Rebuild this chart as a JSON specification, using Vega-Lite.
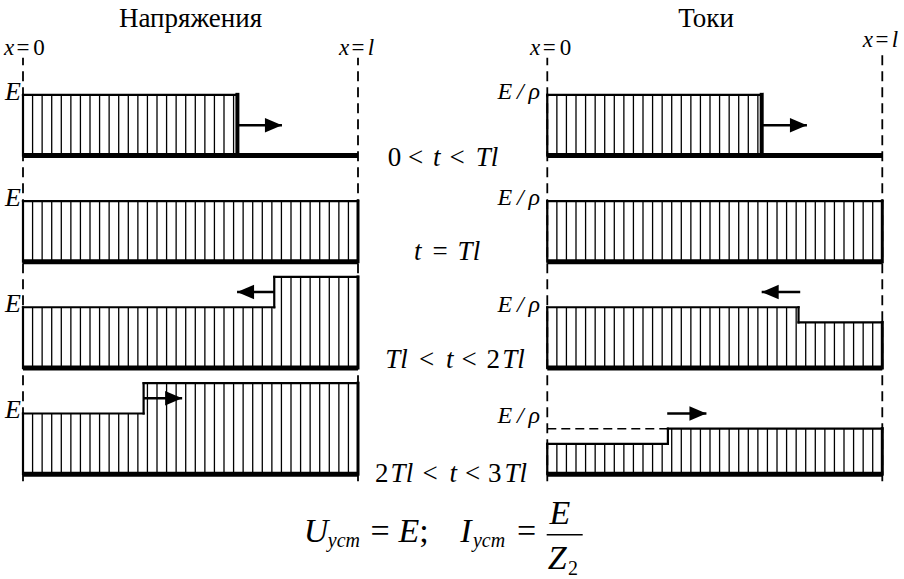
{
  "$schema": "https://vega.github.io/schema/vega-lite/v6.json",
  "width": 904,
  "height": 579,
  "autosize": {"type": "fit", "contains": "padding"},
  "padding": 0,
  "background": "white",
  "config": {
    "view": {"stroke": null},
    "rule": {"color": "black"}
  },
  "datasets": {
    "hatch12": [
      {"x":0,"b":5.25,"t":6.25},{"x":0.0286,"b":5.25,"t":6.25},{"x":0.0571,"b":5.25,"t":6.25},{"x":0.0857,"b":5.25,"t":6.25},
      {"x":0.1143,"b":5.25,"t":6.25},{"x":0.1429,"b":5.25,"t":6.25},{"x":0.1714,"b":5.25,"t":6.25},{"x":0.2,"b":5.25,"t":6.25},
      {"x":0.2286,"b":5.25,"t":6.25},{"x":0.2571,"b":5.25,"t":6.25},{"x":0.2857,"b":5.25,"t":6.25},{"x":0.3143,"b":5.25,"t":6.25},
      {"x":0.3429,"b":5.25,"t":6.25},{"x":0.3714,"b":5.25,"t":6.25},{"x":0.4,"b":5.25,"t":6.25},{"x":0.4286,"b":5.25,"t":6.25},
      {"x":0.4571,"b":5.25,"t":6.25},{"x":0.4857,"b":5.25,"t":6.25},{"x":0.5143,"b":5.25,"t":6.25},{"x":0.5429,"b":5.25,"t":6.25},
      {"x":0.5714,"b":5.25,"t":6.25},{"x":0.6,"b":5.25,"t":6.25},{"x":0.6286,"b":5.25,"t":6.25},
      {"x":0,"b":3.5,"t":4.5},{"x":0.0286,"b":3.5,"t":4.5},{"x":0.0571,"b":3.5,"t":4.5},{"x":0.0857,"b":3.5,"t":4.5},
      {"x":0.1143,"b":3.5,"t":4.5},{"x":0.1429,"b":3.5,"t":4.5},{"x":0.1714,"b":3.5,"t":4.5},{"x":0.2,"b":3.5,"t":4.5},
      {"x":0.2286,"b":3.5,"t":4.5},{"x":0.2571,"b":3.5,"t":4.5},{"x":0.2857,"b":3.5,"t":4.5},{"x":0.3143,"b":3.5,"t":4.5},
      {"x":0.3429,"b":3.5,"t":4.5},{"x":0.3714,"b":3.5,"t":4.5},{"x":0.4,"b":3.5,"t":4.5},{"x":0.4286,"b":3.5,"t":4.5},
      {"x":0.4571,"b":3.5,"t":4.5},{"x":0.4857,"b":3.5,"t":4.5},{"x":0.5143,"b":3.5,"t":4.5},{"x":0.5429,"b":3.5,"t":4.5},
      {"x":0.5714,"b":3.5,"t":4.5},{"x":0.6,"b":3.5,"t":4.5},{"x":0.6286,"b":3.5,"t":4.5},{"x":0.6571,"b":3.5,"t":4.5},
      {"x":0.6857,"b":3.5,"t":4.5},{"x":0.7143,"b":3.5,"t":4.5},{"x":0.7429,"b":3.5,"t":4.5},{"x":0.7714,"b":3.5,"t":4.5},
      {"x":0.8,"b":3.5,"t":4.5},{"x":0.8286,"b":3.5,"t":4.5},{"x":0.8571,"b":3.5,"t":4.5},{"x":0.8857,"b":3.5,"t":4.5},
      {"x":0.9143,"b":3.5,"t":4.5},{"x":0.9429,"b":3.5,"t":4.5},{"x":0.9714,"b":3.5,"t":4.5},{"x":1,"b":3.5,"t":4.5}
    ],
    "uHatch34": [
      {"x":0,"b":1.75,"t":2.75},{"x":0.0286,"b":1.75,"t":2.75},{"x":0.0571,"b":1.75,"t":2.75},{"x":0.0857,"b":1.75,"t":2.75},
      {"x":0.1143,"b":1.75,"t":2.75},{"x":0.1429,"b":1.75,"t":2.75},{"x":0.1714,"b":1.75,"t":2.75},{"x":0.2,"b":1.75,"t":2.75},
      {"x":0.2286,"b":1.75,"t":2.75},{"x":0.2571,"b":1.75,"t":2.75},{"x":0.2857,"b":1.75,"t":2.75},{"x":0.3143,"b":1.75,"t":2.75},
      {"x":0.3429,"b":1.75,"t":2.75},{"x":0.3714,"b":1.75,"t":2.75},{"x":0.4,"b":1.75,"t":2.75},{"x":0.4286,"b":1.75,"t":2.75},
      {"x":0.4571,"b":1.75,"t":2.75},{"x":0.4857,"b":1.75,"t":2.75},{"x":0.5143,"b":1.75,"t":2.75},{"x":0.5429,"b":1.75,"t":2.75},
      {"x":0.5714,"b":1.75,"t":2.75},{"x":0.6,"b":1.75,"t":2.75},{"x":0.6286,"b":1.75,"t":2.75},{"x":0.6571,"b":1.75,"t":2.75},
      {"x":0.6857,"b":1.75,"t":2.75},{"x":0.7143,"b":1.75,"t":2.75},{"x":0.7429,"b":1.75,"t":2.75},{"x":0.7714,"b":1.75,"t":3.25},
      {"x":0.8,"b":1.75,"t":3.25},{"x":0.8286,"b":1.75,"t":3.25},{"x":0.8571,"b":1.75,"t":3.25},{"x":0.8857,"b":1.75,"t":3.25},
      {"x":0.9143,"b":1.75,"t":3.25},{"x":0.9429,"b":1.75,"t":3.25},{"x":0.9714,"b":1.75,"t":3.25},{"x":1,"b":1.75,"t":3.25},
      {"x":0,"b":0,"t":1},{"x":0.0286,"b":0,"t":1},{"x":0.0571,"b":0,"t":1},{"x":0.0857,"b":0,"t":1},
      {"x":0.1143,"b":0,"t":1},{"x":0.1429,"b":0,"t":1},{"x":0.1714,"b":0,"t":1},{"x":0.2,"b":0,"t":1},
      {"x":0.2286,"b":0,"t":1},{"x":0.2571,"b":0,"t":1},{"x":0.2857,"b":0,"t":1},{"x":0.3143,"b":0,"t":1},
      {"x":0.3429,"b":0,"t":1},{"x":0.3714,"b":0,"t":1.5},{"x":0.4,"b":0,"t":1.5},{"x":0.4286,"b":0,"t":1.5},
      {"x":0.4571,"b":0,"t":1.5},{"x":0.4857,"b":0,"t":1.5},{"x":0.5143,"b":0,"t":1.5},{"x":0.5429,"b":0,"t":1.5},
      {"x":0.5714,"b":0,"t":1.5},{"x":0.6,"b":0,"t":1.5},{"x":0.6286,"b":0,"t":1.5},{"x":0.6571,"b":0,"t":1.5},
      {"x":0.6857,"b":0,"t":1.5},{"x":0.7143,"b":0,"t":1.5},{"x":0.7429,"b":0,"t":1.5},{"x":0.7714,"b":0,"t":1.5},
      {"x":0.8,"b":0,"t":1.5},{"x":0.8286,"b":0,"t":1.5},{"x":0.8571,"b":0,"t":1.5},{"x":0.8857,"b":0,"t":1.5},
      {"x":0.9143,"b":0,"t":1.5},{"x":0.9429,"b":0,"t":1.5},{"x":0.9714,"b":0,"t":1.5},{"x":1,"b":0,"t":1.5}
    ],
    "iHatch34": [
      {"x":0,"b":1.75,"t":2.75},{"x":0.0286,"b":1.75,"t":2.75},{"x":0.0571,"b":1.75,"t":2.75},{"x":0.0857,"b":1.75,"t":2.75},
      {"x":0.1143,"b":1.75,"t":2.75},{"x":0.1429,"b":1.75,"t":2.75},{"x":0.1714,"b":1.75,"t":2.75},{"x":0.2,"b":1.75,"t":2.75},
      {"x":0.2286,"b":1.75,"t":2.75},{"x":0.2571,"b":1.75,"t":2.75},{"x":0.2857,"b":1.75,"t":2.75},{"x":0.3143,"b":1.75,"t":2.75},
      {"x":0.3429,"b":1.75,"t":2.75},{"x":0.3714,"b":1.75,"t":2.75},{"x":0.4,"b":1.75,"t":2.75},{"x":0.4286,"b":1.75,"t":2.75},
      {"x":0.4571,"b":1.75,"t":2.75},{"x":0.4857,"b":1.75,"t":2.75},{"x":0.5143,"b":1.75,"t":2.75},{"x":0.5429,"b":1.75,"t":2.75},
      {"x":0.5714,"b":1.75,"t":2.75},{"x":0.6,"b":1.75,"t":2.75},{"x":0.6286,"b":1.75,"t":2.75},{"x":0.6571,"b":1.75,"t":2.75},
      {"x":0.6857,"b":1.75,"t":2.75},{"x":0.7143,"b":1.75,"t":2.75},{"x":0.7429,"b":1.75,"t":2.75},{"x":0.7714,"b":1.75,"t":2.5},
      {"x":0.8,"b":1.75,"t":2.5},{"x":0.8286,"b":1.75,"t":2.5},{"x":0.8571,"b":1.75,"t":2.5},{"x":0.8857,"b":1.75,"t":2.5},
      {"x":0.9143,"b":1.75,"t":2.5},{"x":0.9429,"b":1.75,"t":2.5},{"x":0.9714,"b":1.75,"t":2.5},{"x":1,"b":1.75,"t":2.5},
      {"x":0,"b":0,"t":0.5},{"x":0.0286,"b":0,"t":0.5},{"x":0.0571,"b":0,"t":0.5},{"x":0.0857,"b":0,"t":0.5},
      {"x":0.1143,"b":0,"t":0.5},{"x":0.1429,"b":0,"t":0.5},{"x":0.1714,"b":0,"t":0.5},{"x":0.2,"b":0,"t":0.5},
      {"x":0.2286,"b":0,"t":0.5},{"x":0.2571,"b":0,"t":0.5},{"x":0.2857,"b":0,"t":0.5},{"x":0.3143,"b":0,"t":0.5},
      {"x":0.3429,"b":0,"t":0.5},{"x":0.3714,"b":0,"t":0.75},{"x":0.4,"b":0,"t":0.75},{"x":0.4286,"b":0,"t":0.75},
      {"x":0.4571,"b":0,"t":0.75},{"x":0.4857,"b":0,"t":0.75},{"x":0.5143,"b":0,"t":0.75},{"x":0.5429,"b":0,"t":0.75},
      {"x":0.5714,"b":0,"t":0.75},{"x":0.6,"b":0,"t":0.75},{"x":0.6286,"b":0,"t":0.75},{"x":0.6571,"b":0,"t":0.75},
      {"x":0.6857,"b":0,"t":0.75},{"x":0.7143,"b":0,"t":0.75},{"x":0.7429,"b":0,"t":0.75},{"x":0.7714,"b":0,"t":0.75},
      {"x":0.8,"b":0,"t":0.75},{"x":0.8286,"b":0,"t":0.75},{"x":0.8571,"b":0,"t":0.75},{"x":0.8857,"b":0,"t":0.75},
      {"x":0.9143,"b":0,"t":0.75},{"x":0.9429,"b":0,"t":0.75},{"x":0.9714,"b":0,"t":0.75},{"x":1,"b":0,"t":0.75}
    ],
    "outline12": [
      {"x":0,"x2":0,"y":5.25,"y2":6.25,"k":"edge"},
      {"x":0,"x2":0.64,"y":6.25,"y2":6.25,"k":"edge"},
      {"x":0.64,"x2":0.64,"y":5.25,"y2":6.25,"k":"front"},
      {"x":0,"x2":0,"y":3.5,"y2":4.5,"k":"edge"},
      {"x":0,"x2":1,"y":4.5,"y2":4.5,"k":"edge"},
      {"x":1,"x2":1,"y":3.5,"y2":4.5,"k":"end"}
    ],
    "uOutline34": [
      {"x":0,"x2":0,"y":1.75,"y2":2.75,"k":"edge"},
      {"x":0,"x2":0.75,"y":2.75,"y2":2.75,"k":"edge"},
      {"x":0.75,"x2":0.75,"y":2.75,"y2":3.25,"k":"edge"},
      {"x":0.75,"x2":1,"y":3.25,"y2":3.25,"k":"edge"},
      {"x":1,"x2":1,"y":1.75,"y2":3.25,"k":"end"},
      {"x":0,"x2":0,"y":0,"y2":1,"k":"edge"},
      {"x":0,"x2":0.36,"y":1,"y2":1,"k":"edge"},
      {"x":0.36,"x2":0.36,"y":1,"y2":1.5,"k":"edge"},
      {"x":0.36,"x2":1,"y":1.5,"y2":1.5,"k":"edge"},
      {"x":1,"x2":1,"y":0,"y2":1.5,"k":"end"}
    ],
    "iOutline34": [
      {"x":0,"x2":0,"y":1.75,"y2":2.75,"k":"edge"},
      {"x":0,"x2":0.75,"y":2.75,"y2":2.75,"k":"edge"},
      {"x":0.75,"x2":0.75,"y":2.5,"y2":2.75,"k":"edge"},
      {"x":0.75,"x2":1,"y":2.5,"y2":2.5,"k":"edge"},
      {"x":1,"x2":1,"y":1.75,"y2":2.5,"k":"end"},
      {"x":0,"x2":0,"y":0,"y2":0.5,"k":"edge"},
      {"x":0,"x2":0.36,"y":0.5,"y2":0.5,"k":"edge"},
      {"x":0.36,"x2":0.36,"y":0.5,"y2":0.75,"k":"edge"},
      {"x":0.36,"x2":1,"y":0.75,"y2":0.75,"k":"edge"},
      {"x":1,"x2":1,"y":0,"y2":0.75,"k":"end"}
    ],
    "bases": [
      {"x":0,"x2":1,"y":5.25},{"x":0,"x2":1,"y":3.5},{"x":0,"x2":1,"y":1.75},{"x":0,"x2":1,"y":0}
    ],
    "uGuides": [{"x":0,"y":-0.115,"y2":6.86},{"x":1,"y":-0.115,"y2":6.86}],
    "iGuides": [{"x":0,"y":-0.115,"y2":6.86},{"x":1,"y":-0.115,"y2":6.99}],
    "iPrior": [{"x":0,"x2":0.36,"y":0.75}],
    "uArrows": [
      {"x":0.64,"x2":0.773,"y":5.75,"dir":"right"},
      {"x":0.75,"x2":0.639,"y":3.0,"dir":"left"},
      {"x":0.361,"x2":0.475,"y":1.25,"dir":"right"}
    ],
    "iArrows": [
      {"x":0.64,"x2":0.775,"y":5.75,"dir":"right"},
      {"x":0.755,"x2":0.64,"y":3.0,"dir":"left"},
      {"x":0.358,"x2":0.475,"y":1.0,"dir":"right"}
    ],
    "uRoman": [
      {"x":0.5,"y":7.368,"s":"Напряжения","r":"title"},
      {"x":0,"y":6.908,"s":"=","r":"guide"},
      {"x":0.0478,"y":6.908,"s":"0","r":"guide"},
      {"x":1,"y":6.908,"s":"=","r":"guide"},
      {"x":1.109,"y":5.082,"s":"0","r":"time"},
      {"x":1.172,"y":5.082,"s":"<","r":"time"},
      {"x":1.296,"y":5.082,"s":"<","r":"time"},
      {"x":1.245,"y":3.536,"s":"=","r":"time"},
      {"x":1.205,"y":1.743,"s":"<","r":"time"},
      {"x":1.332,"y":1.743,"s":"<","r":"time"},
      {"x":1.404,"y":1.743,"s":"2","r":"time"},
      {"x":1.071,"y":-0.132,"s":"2","r":"time"},
      {"x":1.215,"y":-0.132,"s":"<","r":"time"},
      {"x":1.342,"y":-0.132,"s":"<","r":"time"},
      {"x":1.408,"y":-0.132,"s":"3","r":"time"},
      {"x":1.0657,"y":-1.118,"s":"=","r":"formula"},
      {"x":1.197,"y":-1.118,"s":";","r":"formula"},
      {"x":1.503,"y":-1.118,"s":"=","r":"formula"},
      {"x":1.6418,"y":-1.661,"s":"2","r":"sub"}
    ],
    "uItalic": [
      {"x":-0.0418,"y":6.908,"s":"x","r":"guide"},
      {"x":0.9582,"y":6.908,"s":"x","r":"guide"},
      {"x":1.0388,"y":6.908,"s":"l","r":"guide"},
      {"x":1.235,"y":5.082,"s":"t","r":"time"},
      {"x":1.385,"y":5.082,"s":"Tl","r":"time"},
      {"x":1.178,"y":3.536,"s":"t","r":"time"},
      {"x":1.331,"y":3.536,"s":"Tl","r":"time"},
      {"x":1.115,"y":1.743,"s":"Tl","r":"time"},
      {"x":1.274,"y":1.743,"s":"t","r":"time"},
      {"x":1.464,"y":1.743,"s":"Tl","r":"time"},
      {"x":1.131,"y":-0.132,"s":"Tl","r":"time"},
      {"x":1.284,"y":-0.132,"s":"t","r":"time"},
      {"x":1.471,"y":-0.132,"s":"Tl","r":"time"},
      {"x":0.8746,"y":-1.118,"s":"U","r":"formula"},
      {"x":1.152,"y":-1.118,"s":"E","r":"formula"},
      {"x":1.3218,"y":-1.118,"s":"I","r":"formula"},
      {"x":1.6024,"y":-0.822,"s":"E","r":"formula"},
      {"x":1.595,"y":-1.5625,"s":"Z","r":"formula"},
      {"x":0.958,"y":-1.206,"s":"уст","r":"sub"},
      {"x":1.391,"y":-1.206,"s":"уст","r":"sub"}
    ],
    "uLevel": [
      {"x":-0.006,"y":6.17,"s":"E"},{"x":-0.006,"y":4.42,"s":"E"},{"x":-0.006,"y":2.67,"s":"E"},{"x":-0.006,"y":0.92,"s":"E"}
    ],
    "uBar": [{"x":1.5633,"x2":1.6707,"y":-0.998}],
    "iRoman": [
      {"x":0.474,"y":7.368,"s":"Токи","r":"title"},
      {"x":0.006,"y":6.908,"s":"=","r":"guide"},
      {"x":0.054,"y":6.908,"s":"0","r":"guide"},
      {"x":0.999,"y":7.039,"s":"=","r":"guide"}
    ],
    "iItalic": [
      {"x":-0.036,"y":6.908,"s":"x","r":"guide"},
      {"x":0.957,"y":7.039,"s":"x","r":"guide"},
      {"x":1.038,"y":7.039,"s":"l","r":"guide"}
    ],
    "iLevel": [
      {"x":-0.022,"y":6.18,"s":"E\u2009/\u2009ρ"},{"x":-0.022,"y":4.43,"s":"E\u2009/\u2009ρ"},
      {"x":-0.022,"y":2.68,"s":"E\u2009/\u2009ρ"},{"x":-0.022,"y":0.839,"s":"E\u2009/\u2009ρ"}
    ]
  },
  "layer": [
    {
      "layer": [
        {"data": {"name": "hatch12"}, "mark": {"type": "rule", "strokeWidth": 1.3},
         "encoding": {
           "x": {"field": "x", "type": "quantitative", "scale": {"domain": [-0.06866, 2.62985], "nice": false, "zero": false}, "axis": null},
           "y": {"field": "b", "type": "quantitative", "scale": {"domain": [-1.7105, 7.8125], "nice": false, "zero": false}, "axis": null},
           "y2": {"field": "t"}}},
        {"data": {"name": "uHatch34"}, "mark": {"type": "rule", "strokeWidth": 1.3},
         "encoding": {
           "x": {"field": "x", "type": "quantitative", "scale": {"domain": [-0.06866, 2.62985], "nice": false, "zero": false}, "axis": null},
           "y": {"field": "b", "type": "quantitative", "scale": {"domain": [-1.7105, 7.8125], "nice": false, "zero": false}, "axis": null},
           "y2": {"field": "t"}}},
        {"data": {"name": "outline12"}, "mark": {"type": "rule", "strokeCap": "square"},
         "encoding": {
           "x": {"field": "x", "type": "quantitative", "scale": {"domain": [-0.06866, 2.62985], "nice": false, "zero": false}, "axis": null},
           "x2": {"field": "x2"},
           "y": {"field": "y", "type": "quantitative", "scale": {"domain": [-1.7105, 7.8125], "nice": false, "zero": false}, "axis": null},
           "y2": {"field": "y2"},
           "strokeWidth": {"field": "k", "type": "nominal", "scale": {"type": "ordinal", "domain": ["edge", "front", "end"], "range": [2.2, 4, 3]}, "legend": null}}},
        {"data": {"name": "uOutline34"}, "mark": {"type": "rule", "strokeCap": "square"},
         "encoding": {
           "x": {"field": "x", "type": "quantitative", "scale": {"domain": [-0.06866, 2.62985], "nice": false, "zero": false}, "axis": null},
           "x2": {"field": "x2"},
           "y": {"field": "y", "type": "quantitative", "scale": {"domain": [-1.7105, 7.8125], "nice": false, "zero": false}, "axis": null},
           "y2": {"field": "y2"},
           "strokeWidth": {"field": "k", "type": "nominal", "scale": {"type": "ordinal", "domain": ["edge", "front", "end"], "range": [2.2, 4, 3]}, "legend": null}}},
        {"data": {"name": "bases"}, "mark": {"type": "rule", "strokeWidth": 5, "strokeCap": "butt"},
         "encoding": {
           "x": {"field": "x", "type": "quantitative", "scale": {"domain": [-0.06866, 2.62985], "nice": false, "zero": false}, "axis": null},
           "x2": {"field": "x2"},
           "y": {"field": "y", "type": "quantitative", "scale": {"domain": [-1.7105, 7.8125], "nice": false, "zero": false}, "axis": null}}},
        {"data": {"name": "uGuides"}, "mark": {"type": "rule", "strokeWidth": 1.8, "strokeDash": [10, 6]},
         "encoding": {
           "x": {"field": "x", "type": "quantitative", "scale": {"domain": [-0.06866, 2.62985], "nice": false, "zero": false}, "axis": null},
           "y": {"field": "y", "type": "quantitative", "scale": {"domain": [-1.7105, 7.8125], "nice": false, "zero": false}, "axis": null},
           "y2": {"field": "y2"}}},
        {"data": {"name": "uArrows"}, "mark": {"type": "rule", "strokeWidth": 2.5},
         "encoding": {
           "x": {"field": "x", "type": "quantitative", "scale": {"domain": [-0.06866, 2.62985], "nice": false, "zero": false}, "axis": null},
           "x2": {"field": "x2"},
           "y": {"field": "y", "type": "quantitative", "scale": {"domain": [-1.7105, 7.8125], "nice": false, "zero": false}, "axis": null}}},
        {"data": {"name": "uArrows"}, "mark": {"type": "point", "filled": true, "color": "black", "opacity": 1, "size": 289, "strokeWidth": 0},
         "encoding": {
           "x": {"field": "x2", "type": "quantitative", "scale": {"domain": [-0.06866, 2.62985], "nice": false, "zero": false}, "axis": null},
           "y": {"field": "y", "type": "quantitative", "scale": {"domain": [-1.7105, 7.8125], "nice": false, "zero": false}, "axis": null},
           "shape": {"field": "dir", "type": "nominal", "scale": {"domain": ["right", "left"], "range": ["M-2,-0.85L0,0L-2,0.85Z", "M2,-0.85L0,0L2,0.85Z"]}, "legend": null}}},
        {"data": {"name": "uBar"}, "mark": {"type": "rule", "strokeWidth": 1.6},
         "encoding": {
           "x": {"field": "x", "type": "quantitative", "scale": {"domain": [-0.06866, 2.62985], "nice": false, "zero": false}, "axis": null},
           "x2": {"field": "x2"},
           "y": {"field": "y", "type": "quantitative", "scale": {"domain": [-1.7105, 7.8125], "nice": false, "zero": false}, "axis": null}}},
        {"data": {"name": "uRoman"}, "mark": {"type": "text", "align": "center", "baseline": "alphabetic", "font": "Liberation Serif", "color": "black"},
         "encoding": {
           "x": {"field": "x", "type": "quantitative", "scale": {"domain": [-0.06866, 2.62985], "nice": false, "zero": false}, "axis": null},
           "y": {"field": "y", "type": "quantitative", "scale": {"domain": [-1.7105, 7.8125], "nice": false, "zero": false}, "axis": null},
           "text": {"field": "s"},
           "size": {"field": "r", "type": "nominal", "scale": {"type": "ordinal", "domain": ["title", "guide", "time", "formula", "sub"], "range": [27, 23, 27, 34, 20]}, "legend": null}}},
        {"data": {"name": "uItalic"}, "mark": {"type": "text", "align": "center", "baseline": "alphabetic", "fontStyle": "italic", "font": "Liberation Serif", "color": "black"},
         "encoding": {
           "x": {"field": "x", "type": "quantitative", "scale": {"domain": [-0.06866, 2.62985], "nice": false, "zero": false}, "axis": null},
           "y": {"field": "y", "type": "quantitative", "scale": {"domain": [-1.7105, 7.8125], "nice": false, "zero": false}, "axis": null},
           "text": {"field": "s"},
           "size": {"field": "r", "type": "nominal", "scale": {"type": "ordinal", "domain": ["title", "guide", "time", "formula", "sub"], "range": [27, 23, 27, 34, 20]}, "legend": null}}},
        {"data": {"name": "uLevel"}, "mark": {"type": "text", "align": "right", "baseline": "alphabetic", "fontStyle": "italic", "fontSize": 26, "font": "Liberation Serif", "color": "black"},
         "encoding": {
           "x": {"field": "x", "type": "quantitative", "scale": {"domain": [-0.06866, 2.62985], "nice": false, "zero": false}, "axis": null},
           "y": {"field": "y", "type": "quantitative", "scale": {"domain": [-1.7105, 7.8125], "nice": false, "zero": false}, "axis": null},
           "text": {"field": "s"}}}
      ]
    },
    {
      "layer": [
        {"data": {"name": "hatch12"}, "mark": {"type": "rule", "strokeWidth": 1.3},
         "encoding": {
           "x": {"field": "x", "type": "quantitative", "scale": {"domain": [-1.6337, 1.0648], "nice": false, "zero": false}, "axis": null},
           "y": {"field": "b", "type": "quantitative", "scale": {"domain": [-1.7105, 7.8125], "nice": false, "zero": false}, "axis": null},
           "y2": {"field": "t"}}},
        {"data": {"name": "iHatch34"}, "mark": {"type": "rule", "strokeWidth": 1.3},
         "encoding": {
           "x": {"field": "x", "type": "quantitative", "scale": {"domain": [-1.6337, 1.0648], "nice": false, "zero": false}, "axis": null},
           "y": {"field": "b", "type": "quantitative", "scale": {"domain": [-1.7105, 7.8125], "nice": false, "zero": false}, "axis": null},
           "y2": {"field": "t"}}},
        {"data": {"name": "outline12"}, "mark": {"type": "rule", "strokeCap": "square"},
         "encoding": {
           "x": {"field": "x", "type": "quantitative", "scale": {"domain": [-1.6337, 1.0648], "nice": false, "zero": false}, "axis": null},
           "x2": {"field": "x2"},
           "y": {"field": "y", "type": "quantitative", "scale": {"domain": [-1.7105, 7.8125], "nice": false, "zero": false}, "axis": null},
           "y2": {"field": "y2"},
           "strokeWidth": {"field": "k", "type": "nominal", "scale": {"type": "ordinal", "domain": ["edge", "front", "end"], "range": [2.2, 4, 3]}, "legend": null}}},
        {"data": {"name": "iOutline34"}, "mark": {"type": "rule", "strokeCap": "square"},
         "encoding": {
           "x": {"field": "x", "type": "quantitative", "scale": {"domain": [-1.6337, 1.0648], "nice": false, "zero": false}, "axis": null},
           "x2": {"field": "x2"},
           "y": {"field": "y", "type": "quantitative", "scale": {"domain": [-1.7105, 7.8125], "nice": false, "zero": false}, "axis": null},
           "y2": {"field": "y2"},
           "strokeWidth": {"field": "k", "type": "nominal", "scale": {"type": "ordinal", "domain": ["edge", "front", "end"], "range": [2.2, 4, 3]}, "legend": null}}},
        {"data": {"name": "bases"}, "mark": {"type": "rule", "strokeWidth": 5, "strokeCap": "butt"},
         "encoding": {
           "x": {"field": "x", "type": "quantitative", "scale": {"domain": [-1.6337, 1.0648], "nice": false, "zero": false}, "axis": null},
           "x2": {"field": "x2"},
           "y": {"field": "y", "type": "quantitative", "scale": {"domain": [-1.7105, 7.8125], "nice": false, "zero": false}, "axis": null}}},
        {"data": {"name": "iGuides"}, "mark": {"type": "rule", "strokeWidth": 1.8, "strokeDash": [10, 6]},
         "encoding": {
           "x": {"field": "x", "type": "quantitative", "scale": {"domain": [-1.6337, 1.0648], "nice": false, "zero": false}, "axis": null},
           "y": {"field": "y", "type": "quantitative", "scale": {"domain": [-1.7105, 7.8125], "nice": false, "zero": false}, "axis": null},
           "y2": {"field": "y2"}}},
        {"data": {"name": "iPrior"}, "mark": {"type": "rule", "strokeWidth": 1.5, "strokeDash": [9, 5]},
         "encoding": {
           "x": {"field": "x", "type": "quantitative", "scale": {"domain": [-1.6337, 1.0648], "nice": false, "zero": false}, "axis": null},
           "x2": {"field": "x2"},
           "y": {"field": "y", "type": "quantitative", "scale": {"domain": [-1.7105, 7.8125], "nice": false, "zero": false}, "axis": null}}},
        {"data": {"name": "iArrows"}, "mark": {"type": "rule", "strokeWidth": 2.5},
         "encoding": {
           "x": {"field": "x", "type": "quantitative", "scale": {"domain": [-1.6337, 1.0648], "nice": false, "zero": false}, "axis": null},
           "x2": {"field": "x2"},
           "y": {"field": "y", "type": "quantitative", "scale": {"domain": [-1.7105, 7.8125], "nice": false, "zero": false}, "axis": null}}},
        {"data": {"name": "iArrows"}, "mark": {"type": "point", "filled": true, "color": "black", "opacity": 1, "size": 289, "strokeWidth": 0},
         "encoding": {
           "x": {"field": "x2", "type": "quantitative", "scale": {"domain": [-1.6337, 1.0648], "nice": false, "zero": false}, "axis": null},
           "y": {"field": "y", "type": "quantitative", "scale": {"domain": [-1.7105, 7.8125], "nice": false, "zero": false}, "axis": null},
           "shape": {"field": "dir", "type": "nominal", "scale": {"domain": ["right", "left"], "range": ["M-2,-0.85L0,0L-2,0.85Z", "M2,-0.85L0,0L2,0.85Z"]}, "legend": null}}},
        {"data": {"name": "iRoman"}, "mark": {"type": "text", "align": "center", "baseline": "alphabetic", "font": "Liberation Serif", "color": "black"},
         "encoding": {
           "x": {"field": "x", "type": "quantitative", "scale": {"domain": [-1.6337, 1.0648], "nice": false, "zero": false}, "axis": null},
           "y": {"field": "y", "type": "quantitative", "scale": {"domain": [-1.7105, 7.8125], "nice": false, "zero": false}, "axis": null},
           "text": {"field": "s"},
           "size": {"field": "r", "type": "nominal", "scale": {"type": "ordinal", "domain": ["title", "guide", "time", "formula", "sub"], "range": [27, 23, 27, 34, 20]}, "legend": null}}},
        {"data": {"name": "iItalic"}, "mark": {"type": "text", "align": "center", "baseline": "alphabetic", "fontStyle": "italic", "font": "Liberation Serif", "color": "black"},
         "encoding": {
           "x": {"field": "x", "type": "quantitative", "scale": {"domain": [-1.6337, 1.0648], "nice": false, "zero": false}, "axis": null},
           "y": {"field": "y", "type": "quantitative", "scale": {"domain": [-1.7105, 7.8125], "nice": false, "zero": false}, "axis": null},
           "text": {"field": "s"},
           "size": {"field": "r", "type": "nominal", "scale": {"type": "ordinal", "domain": ["title", "guide", "time", "formula", "sub"], "range": [27, 23, 27, 34, 20]}, "legend": null}}},
        {"data": {"name": "iLevel"}, "mark": {"type": "text", "align": "right", "baseline": "alphabetic", "fontStyle": "italic", "fontSize": 24, "font": "Liberation Serif", "color": "black"},
         "encoding": {
           "x": {"field": "x", "type": "quantitative", "scale": {"domain": [-1.6337, 1.0648], "nice": false, "zero": false}, "axis": null},
           "y": {"field": "y", "type": "quantitative", "scale": {"domain": [-1.7105, 7.8125], "nice": false, "zero": false}, "axis": null},
           "text": {"field": "s"}}}
      ]
    }
  ],
  "resolve": {"scale": {"x": "independent"}}
}
